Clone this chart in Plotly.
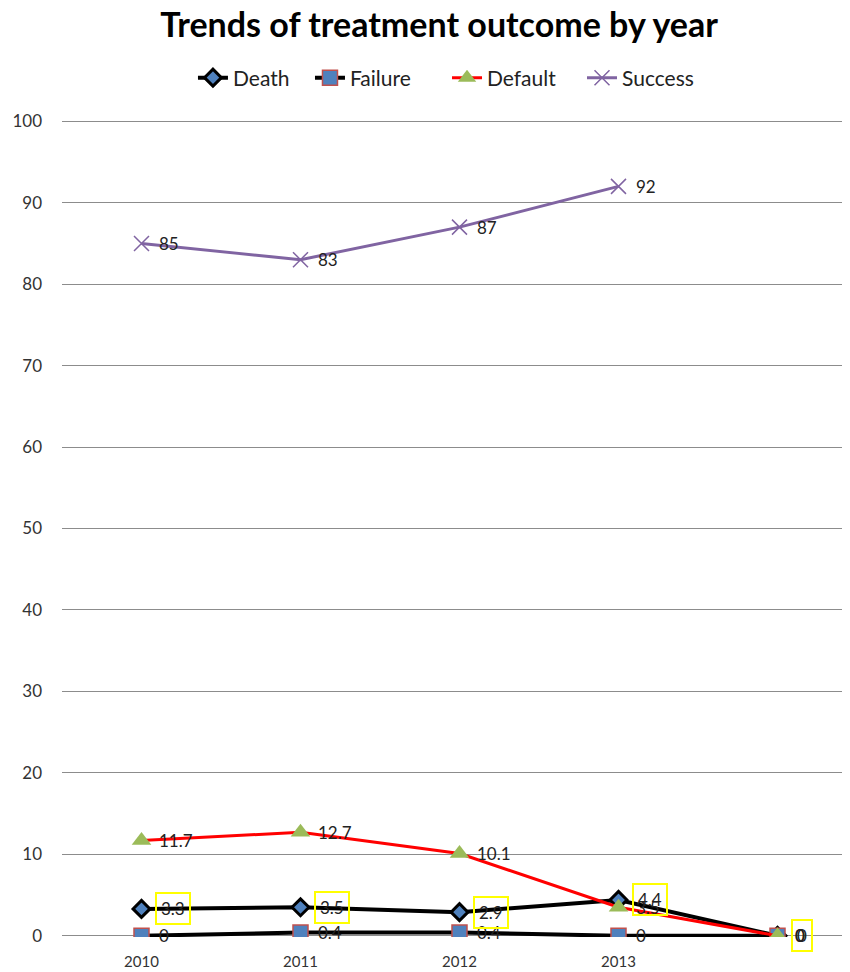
import plotly.graph_objects as go

years = ["2010", "2011", "2012", "2013", " "]
death = [3.3, 3.5, 2.9, 4.4, 0]
failure = [0, 0.4, 0.4, 0, 0]
default = [11.7, 12.7, 10.1, 3.5, 0]
success = [85, 83, 87, 92, None]

def fmt(v):
    if v is None:
        return ""
    return str(int(v)) if float(v).is_integer() else str(v)

FONT = "Lato, 'Open Sans', sans-serif"
LBL = dict(size=17, color="#222", family=FONT)
fig = go.Figure()

fig.add_trace(go.Scatter(
    x=years, y=death, name="Death", mode="lines+markers", legend="legend",
    line=dict(color="black", width=4),
    marker=dict(symbol="diamond", size=13, color="#4F81BD",
                line=dict(color="black", width=3)),
))
fig.add_trace(go.Scatter(
    x=years, y=failure, name="Failure", mode="lines+markers", legend="legend2",
    line=dict(color="black", width=4),
    marker=dict(symbol="square", size=15, color="#4F81BD",
                line=dict(color="#C0504D", width=1.5)),
))
fig.add_trace(go.Scatter(
    x=years, y=default, name="Default", mode="lines+markers", legend="legend3",
    line=dict(color="#FF0000", width=3),
    marker=dict(symbol="triangle-up", size=17, color="#9BBB59",
                line=dict(color="#9BBB59", width=0)),
))
fig.add_trace(go.Scatter(
    x=years, y=success, name="Success", mode="lines+markers", legend="legend4",
    line=dict(color="#8064A2", width=3),
    marker=dict(symbol="x-thin", size=15, color="#8064A2",
                line=dict(color="#8064A2", width=1.5)),
))

# plain data labels
for series in (failure, default, success):
    for i, v in enumerate(series):
        if v is None:
            continue
        fig.add_annotation(x=i, y=v, text=fmt(v), showarrow=False,
                           xanchor="left", xshift=15, font=LBL)

# Death labels with yellow boxes
for i, v in enumerate(death):
    fig.add_annotation(
        x=i, y=v, text=fmt(v), showarrow=False, xanchor="left",
        xshift=13, font=LBL,
        bordercolor="#FFFF00", borderwidth=2, borderpad=4,
    )

def leg(xpos):
    return dict(orientation="h", x=xpos, xanchor="left", y=1.0514,
                yanchor="middle", font=dict(size=21, color="#222", family=FONT),
                bgcolor="rgba(0,0,0,0)")

fig.update_layout(
    width=842, height=964,
    paper_bgcolor="white", plot_bgcolor="white",
    margin=dict(l=54, r=0, t=112, b=35),
    title=dict(text="<b>Trends of treatment outcome by year</b>",
               x=0.512, xanchor="center", y=0.982, yanchor="middle",
               font=dict(size=34, color="black", family=FONT)),
    legend=leg(0.1662),
    legend2=leg(0.3147),
    legend3=leg(0.4886),
    legend4=leg(0.6599),
    font=dict(family=FONT),
    showlegend=True,
)
fig.update_xaxes(
    type="category", range=[-0.5, 4.456], showgrid=False, showline=False,
    zeroline=False, ticks="", ticklabelstandoff=14,
    tickfont=dict(size=15, color="#333"),
)
fig.update_yaxes(
    range=[-0.15, 100.15], tickvals=list(range(0, 101, 10)), showgrid=True,
    gridcolor="#8C8C8C", gridwidth=1,
    zeroline=False, showline=False, ticks="", ticklabelstandoff=19,
    tickfont=dict(size=17, color="#333"),
)

fig.write_html("out.html")
